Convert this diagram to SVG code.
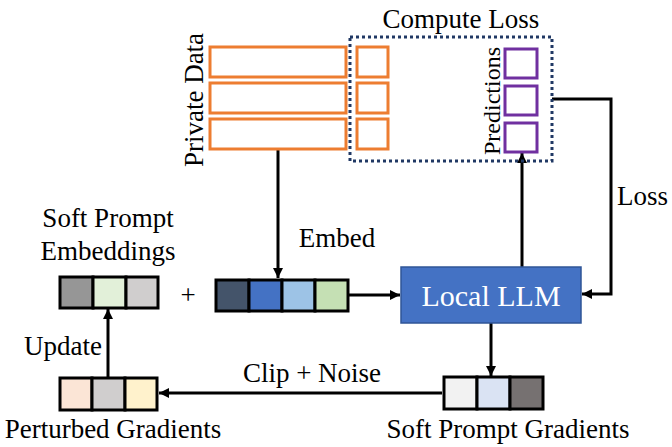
<svg xmlns="http://www.w3.org/2000/svg" width="672" height="447" viewBox="0 0 672 447">
<defs>
<style>
text{font-family:"Liberation Serif","Times New Roman",serif;fill:#000;font-size:27px}
.or{fill:#fff;stroke:#ED7D31;stroke-width:3}
.pu{fill:#fff;stroke:#7030A0;stroke-width:3}
.cell{stroke:#000;stroke-width:3}
.ln{fill:none;stroke:#000;stroke-width:3}
</style>
<marker id="ah" viewBox="0 0 10 10" refX="10" refY="5" markerWidth="10" markerHeight="10" markerUnits="userSpaceOnUse" orient="auto">
<path d="M0,0 L10,5 L0,10 z" fill="#000"/>
</marker>
</defs>
<rect width="672" height="447" fill="#fff"/>

<g id="connectors">
<path class="ln" d="M278,150 V278" marker-end="url(#ah)"/>
<path class="ln" d="M348,295 H400" marker-end="url(#ah)"/>
<path class="ln" d="M522,267 V153" marker-end="url(#ah)"/>
<path class="ln" d="M552,99 H611 V294 H582" marker-end="url(#ah)"/>
<path class="ln" d="M491,323 V376" marker-end="url(#ah)"/>
<path class="ln" d="M442,393 H159" marker-end="url(#ah)"/>
<path class="ln" d="M108,378 V309" marker-end="url(#ah)"/>
</g>

<g id="private-data">
<rect class="or" x="210" y="47" width="136" height="30"/>
<rect class="or" x="210" y="83" width="136" height="30"/>
<rect class="or" x="210" y="119" width="136" height="30"/>
<rect class="or" x="357" y="47" width="31" height="30"/>
<rect class="or" x="357" y="83" width="31" height="30"/>
<rect class="or" x="357" y="119" width="31" height="30"/>
<text transform="translate(203,100) rotate(-90)" text-anchor="middle">Private Data</text>
</g>

<g id="compute-loss">
<rect x="350" y="37" width="202" height="124" fill="none" stroke="#203864" stroke-width="3" stroke-dasharray="3 3"/>
<text x="461" y="28" text-anchor="middle">Compute Loss</text>
</g>

<g id="predictions">
<rect class="pu" x="505" y="49" width="32" height="29"/>
<rect class="pu" x="505" y="86" width="32" height="29"/>
<rect class="pu" x="505" y="123" width="32" height="29"/>
<text transform="translate(500,101) rotate(-90)" text-anchor="middle" style="font-size:24px">Predictions</text>
</g>

<g id="local-llm">
<rect x="401" y="267" width="180" height="56" fill="#4472C4" stroke="#2F5597" stroke-width="1.5"/>
<text x="491" y="306" text-anchor="middle" style="font-size:30px;fill:#fff">Local LLM</text>
</g>

<g id="embed">
<rect class="cell" x="216" y="280" width="33" height="31" fill="#44546A"/>
<rect class="cell" x="249" y="280" width="33" height="31" fill="#4472C4"/>
<rect class="cell" x="282" y="280" width="33" height="31" fill="#9DC3E6"/>
<rect class="cell" x="315" y="280" width="33" height="31" fill="#C5E0B4"/>
<text x="337" y="247" text-anchor="middle">Embed</text>
</g>

<g id="soft-prompt-embeddings">
<rect class="cell" x="60" y="277" width="33" height="31" fill="#969696"/>
<rect class="cell" x="93" y="277" width="33" height="31" fill="#E2F0D9"/>
<rect class="cell" x="126" y="277" width="32" height="31" fill="#D0CECE"/>
<text x="108" y="227" text-anchor="middle">Soft Prompt</text>
<text x="108" y="260" text-anchor="middle">Embeddings</text>
<text x="188" y="304" text-anchor="middle">+</text>
</g>

<g id="soft-prompt-gradients">
<rect class="cell" x="444" y="377" width="33" height="32" fill="#F2F2F2"/>
<rect class="cell" x="477" y="377" width="33" height="32" fill="#DAE3F3"/>
<rect class="cell" x="510" y="377" width="33" height="32" fill="#767171"/>
<text x="508" y="438" text-anchor="middle">Soft Prompt Gradients</text>
</g>

<g id="perturbed-gradients">
<rect class="cell" x="60" y="378" width="32" height="32" fill="#FBE5D6"/>
<rect class="cell" x="92" y="378" width="33" height="32" fill="#D0CECE"/>
<rect class="cell" x="125" y="378" width="32" height="32" fill="#FFF2CC"/>
<text x="113" y="438" text-anchor="middle">Perturbed Gradients</text>
</g>

<g id="labels">
<text x="312" y="382" text-anchor="middle">Clip + Noise</text>
<text x="63" y="355" text-anchor="middle">Update</text>
<text x="617" y="205">Loss</text>
</g>
</svg>
